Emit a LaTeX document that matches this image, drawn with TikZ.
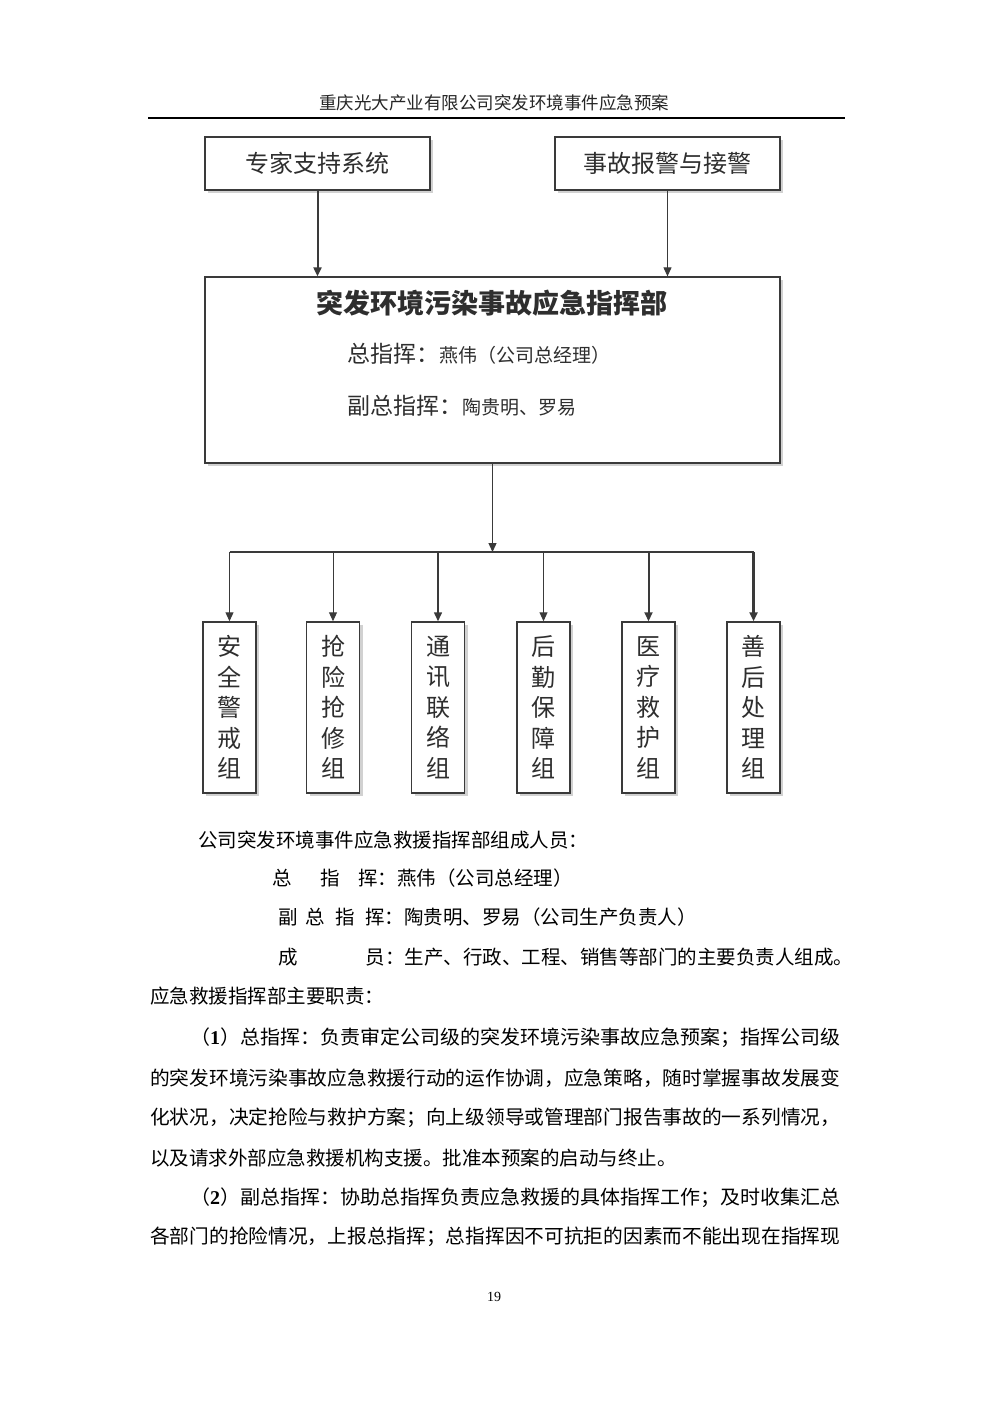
\documentclass[tikz,border=0pt]{standalone}
\usepackage{fontspec}
\usepackage{graphicx}
\setmainfont{Liberation Serif}
\newfontfamily\cjk{Noto Sans CJK SC}
\usetikzlibrary{arrows.meta,shadows}
\definecolor{linegray}{HTML}{3A3A3A}
\definecolor{textgray}{HTML}{2E2E2E}
\begin{document}
\begin{tikzpicture}[x=1pt,y=-1pt,
  conn/.style={draw=linegray, line width=1.3pt},
  arr/.style={conn, -{Triangle[width=8pt,length=9pt]}},
  shad/.style={drop shadow={shadow xshift=3pt, shadow yshift=-3pt, fill=black!18, opacity=1}},
  topbox/.style={draw=linegray, line width=1.3pt, fill=white, shad, minimum width=225pt, minimum height=53pt, inner sep=0pt, text=textgray, font=\cjk\fontsize{24}{24}\selectfont},
  mainbox/.style={draw=linegray, line width=1.3pt, fill=white, shad, minimum width=575pt, minimum height=186pt, inner sep=0pt},
  groupbox/.style={draw=linegray, line width=1.5pt, fill=white, shad, minimum width=53pt, minimum height=171pt, inner sep=0pt, align=center, text=textgray, font=\cjk\fontsize{24}{30.5}\selectfont},
  txt/.style={anchor=west, inner sep=0pt, font=\cjk\fontsize{19.5}{19.5}\selectfont, text=black}
]
\fill[white] (0,0) rectangle (992,1403);
\useasboundingbox (0,0) rectangle (992,1403);

% header
\node[inner sep=0pt, font=\cjk\fontsize{17.5}{17.5}\selectfont, text=black!85] (hdr) at (494,103) {重庆光大产业有限公司突发环境事件应急预案};
\coordinate (ruleL) at (148,118);
\coordinate (ruleR) at (845,118);
\draw[line width=2pt, black] (ruleL) -- (ruleR);

% top boxes
\node[topbox] (exp) at (317.5,163.5) {专家支持系统};
\node[topbox] (alarm) at (667.5,163.5) {事故报警与接警};

% command box
\node[mainbox] (cmd) at (492.5,370) {};
\node[inner sep=0pt, text=textgray, font=\cjk\bfseries\fontsize{27}{27}\selectfont] (ttl) at (492,303) {突发环境污染事故应急指挥部};
\node[anchor=west, inner sep=0pt, text=textgray] (chief) at (347,354) {{\cjk\fontsize{23}{23}\selectfont 总指挥：}{\cjk\fontsize{19}{19}\selectfont 燕伟（公司总经理）}};
\node[anchor=west, inner sep=0pt, text=textgray] (deputy) at (347,406) {{\cjk\fontsize{23}{23}\selectfont 副总指挥：}{\cjk\fontsize{19}{19}\selectfont 陶贵明、罗易}};

\draw[arr, line width=2pt] (exp.south) -- (exp.south |- cmd.north);
\draw[arr, line width=1pt] (alarm.south) -- (alarm.south |- cmd.north);

% groups
\node[groupbox] (g1) at (229.5,707.5) {安\\全\\警\\戒\\组};
\node[groupbox] (g2) at (333,707.5) {抢\\险\\抢\\修\\组};
\node[groupbox] (g3) at (438,707.5) {通\\讯\\联\\络\\组};
\node[groupbox] (g4) at (543.5,707.5) {后\\勤\\保\\障\\组};
\node[groupbox] (g5) at (648.5,707.5) {医\\疗\\救\\护\\组};
\node[groupbox] (g6) at (753.5,707.5) {善\\后\\处\\理\\组};

\coordinate (bus) at (492.5,552);
\draw[arr] (cmd.south) -- (bus);
\draw[conn, line width=2pt] (g1.north |- bus) -- (g6.north |- bus);
\draw[arr, line width=1.2pt] (g1.north |- bus) -- (g1.north);
\draw[arr, line width=1pt] (g2.north |- bus) -- (g2.north);
\draw[arr, line width=1.5pt] (g3.north |- bus) -- (g3.north);
\draw[arr, line width=1pt] (g4.north |- bus) -- (g4.north);
\draw[arr, line width=2pt] (g5.north |- bus) -- (g5.north);
\draw[arr, line width=2.4pt] (g6.north |- bus) -- (g6.north);

% member text
\node[txt] (m0) at (198,840) {公司突发环境事件应急救援指挥部组成人员：};
\node[txt] (m1) at (272,878) {总\hspace{28.5pt}指\hspace{18.5pt}挥：燕伟（公司总经理）};
\node[txt] (m2) at (278,917) {副\hspace{7.5pt}总\hspace{10.5pt}指\hspace{10.5pt}挥：陶贵明、罗易（公司生产负责人）};
\node[txt] (m3) at (278,957) {成\hspace{68pt}员：生产、行政、工程、销售等部门的主要负责人组成。};
\node[txt] (m4) at (150,996) {应急救援指挥部主要职责：};

% duties
\node[txt] (d1) at (190,1038) {\resizebox{650pt}{\height}{（{\rmfamily\bfseries 1}）总指挥：负责审定公司级的突发环境污染事故应急预案；指挥公司级}};
\node[txt] (d2) at (150,1078) {\resizebox{690pt}{\height}{的突发环境污染事故应急救援行动的运作协调，应急策略，随时掌握事故发展变}};
\node[txt] (d3) at (150,1118) {\resizebox{690pt}{\height}{化状况，决定抢险与救护方案；向上级领导或管理部门报告事故的一系列情况，}};
\node[txt] (d4) at (150,1158) {以及请求外部应急救援机构支援。批准本预案的启动与终止。};
\node[txt] (d5) at (190,1198) {\resizebox{650pt}{\height}{（{\rmfamily\bfseries 2}）副总指挥：协助总指挥负责应急救援的具体指挥工作；及时收集汇总}};
\node[txt] (d6) at (150,1237) {\resizebox{690pt}{\height}{各部门的抢险情况，上报总指挥；总指挥因不可抗拒的因素而不能出现在指挥现}};

\node[inner sep=0pt, font=\rmfamily\fontsize{14}{14}\selectfont] (pg) at (494,1297) {19};
\end{tikzpicture}
\end{document}
